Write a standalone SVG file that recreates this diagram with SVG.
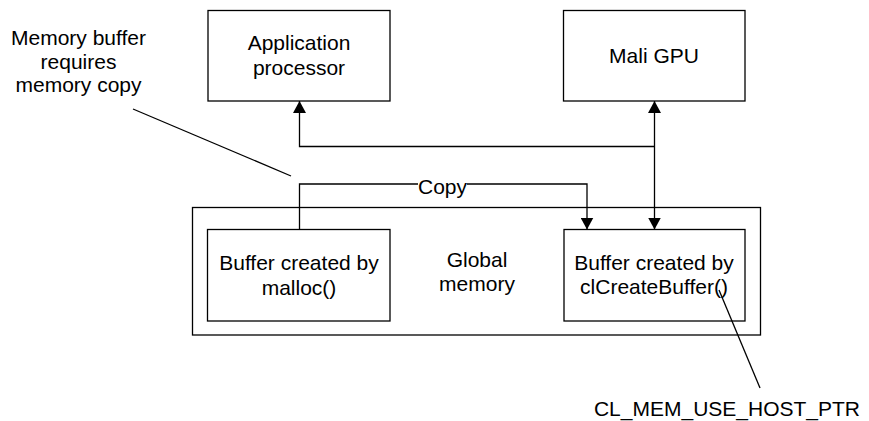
<svg xmlns="http://www.w3.org/2000/svg" width="869" height="421" viewBox="0 0 869 421">
<style>
.box{fill:#fff;stroke:#000;stroke-width:1.3}
.t{font-family:"Liberation Sans",Arial,sans-serif;font-size:21px;fill:#000;text-anchor:middle}
.ln{fill:none;stroke:#000;stroke-width:1.3}
</style>
<defs>
<marker id="ah" viewBox="0 0 12 13" refX="12" refY="6.5" markerWidth="12" markerHeight="13" markerUnits="userSpaceOnUse" orient="auto">
<path d="M0,0 L12,6.5 L0,13 z" fill="#000"/>
</marker>
</defs>
<rect width="869" height="421" fill="#fff"/>
<g id="global-memory">
<rect class="box" x="192.5" y="207.5" width="568" height="127.5"/>
<text class="t" x="477" y="267">Global</text>
<text class="t" x="477" y="291">memory</text>
</g>
<g id="app-processor">
<rect class="box" x="208" y="10.5" width="182" height="90.5"/>
<text class="t" x="299" y="50">Application</text>
<text class="t" x="299" y="75">processor</text>
</g>
<g id="mali-gpu">
<rect class="box" x="563.5" y="10.5" width="181.5" height="90.5"/>
<text class="t" x="654" y="63">Mali GPU</text>
</g>
<g id="malloc-buffer">
<rect class="box" x="207.5" y="229.5" width="182.5" height="91.5"/>
<text class="t" x="299" y="270">Buffer created by</text>
<text class="t" x="299" y="295">malloc()</text>
</g>
<g id="cl-buffer">
<rect class="box" x="564" y="229.5" width="181" height="91.5"/>
<text class="t" x="654" y="270">Buffer created by</text>
<text class="t" x="654" y="294">clCreateBuffer()</text>
</g>
<g id="connectors">
<path class="ln" d="M654.5,146.5 H299.5 V101" marker-end="url(#ah)"/>
<path class="ln" d="M654.5,130 V101" marker-end="url(#ah)"/>
<path class="ln" d="M654.5,130 V229.5" marker-end="url(#ah)"/>
<path class="ln" d="M299.5,229.5 V184 H418 M467,184 H587 V229.5" marker-end="url(#ah)"/>
<text class="t" x="442.5" y="193.5">Copy</text>
<line class="ln" x1="133" y1="109" x2="291" y2="176"/>
<line class="ln" x1="719" y1="290" x2="760" y2="388"/>
</g>
<g id="annotations">
<text class="t" x="78.5" y="45">Memory buffer</text>
<text class="t" x="78.5" y="68.5">requires</text>
<text class="t" x="78.5" y="92">memory copy</text>
<text class="t" x="727" y="415.5">CL_MEM_USE_HOST_PTR</text>
</g>
</svg>
